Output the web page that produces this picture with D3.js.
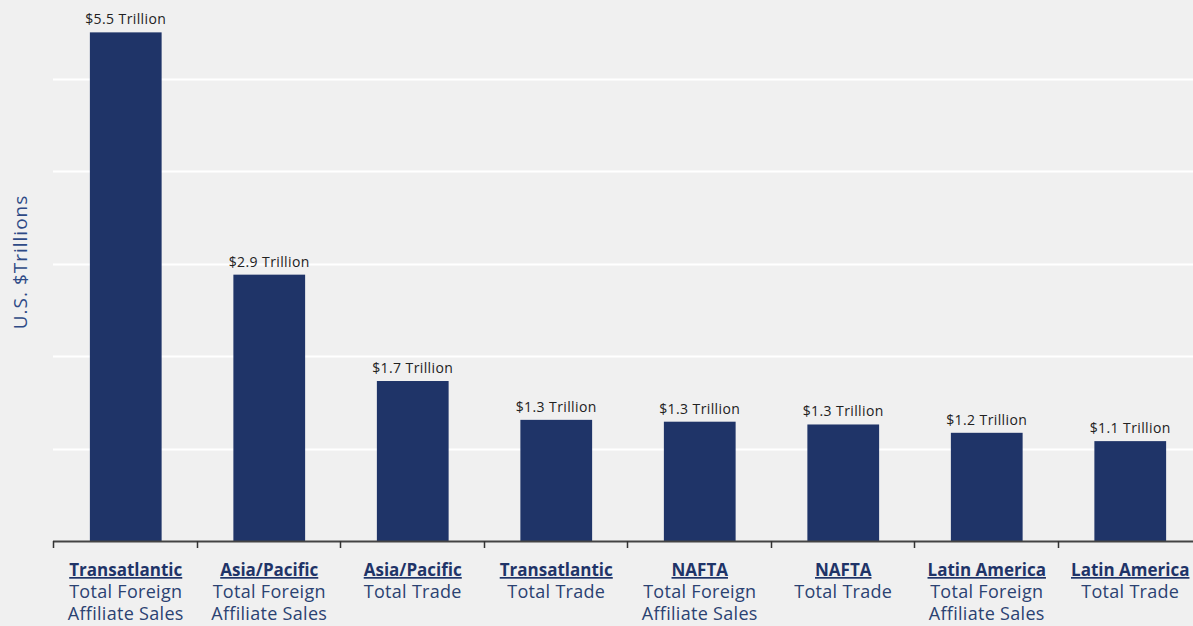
<!DOCTYPE html>
<html>
<head>
<meta charset="utf-8">
<script src="https://cdn.jsdelivr.net/npm/d3@7"></script>
<style>
  body { margin: 0; background: #f0f0f0; }
  svg { display: block; font-family: "Open Sans", sans-serif; }
</style>
</head>
<body>
<svg id="chart" width="1193" height="626"></svg>
<script>
// regions (bold, underlined) and the measure under them
var regions = ["Transatlantic", "Asia/Pacific", "Asia/Pacific", "Transatlantic", "NAFTA", "NAFTA", "Latin America", "Latin America"];
var measures = [["Total Foreign", "Affiliate Sales"], ["Total Foreign", "Affiliate Sales"], ["Total Trade"], ["Total Trade"],
                ["Total Foreign", "Affiliate Sales"], ["Total Trade"], ["Total Foreign", "Affiliate Sales"], ["Total Trade"]];
var values = [5.5, 2.88, 1.73, 1.31, 1.29, 1.26, 1.17, 1.08];
var valueLabels = ["$5.5 Trillion", "$2.9 Trillion", "$1.7 Trillion", "$1.3 Trillion", "$1.3 Trillion", "$1.3 Trillion", "$1.2 Trillion", "$1.1 Trillion"];
var gridTicks = [1, 2, 3, 4, 5];

var width = 1193, height = 626;
var margin = {top: 0, right: -8, bottom: 85, left: 53};

var svg = d3.select("#chart");
var navy = "#1f3468";

var x = d3.scaleBand()
    .domain(d3.range(values.length))
    .range([margin.left + 1, width - margin.right + 1])
    .paddingInner(0.5)
    .paddingOuter(0.25);

var y = d3.scaleLinear()
    .domain([0, 5.85])
    .range([height - margin.bottom, 0]);

// gridlines
svg.append("g")
  .selectAll("line")
  .data(gridTicks)
  .enter().append("line")
    .attr("x1", margin.left)
    .attr("x2", width)
    .attr("y1", function(d) { return Math.round(y(d)) + 0.5; })
    .attr("y2", function(d) { return Math.round(y(d)) + 0.5; })
    .attr("stroke", "#ffffff")
    .attr("stroke-width", 2);

// bars
svg.append("g")
  .selectAll("rect")
  .data(values)
  .enter().append("rect")
    .attr("x", function(d, i) { return x(i); })
    .attr("y", function(d) { return y(d); })
    .attr("width", x.bandwidth())
    .attr("height", function(d) { return y(0) - y(d); })
    .attr("fill", navy);

// value labels
svg.append("g")
  .selectAll("text")
  .data(values)
  .enter().append("text")
    .attr("x", function(d, i) { return x(i) + x.bandwidth() / 2; })
    .attr("y", function(d) { return y(d) - 8; })
    .attr("text-anchor", "middle")
    .attr("font-size", 14)
    .attr("letter-spacing", 0.4)
    .attr("fill", "#222")
    .text(function(d, i) { return valueLabels[i]; });

// x axis: ticks on band edges
var step = x.step();
var edges = d3.range(values.length + 1).map(function(i) { return margin.left + i * step; });
var axis = svg.append("g");
axis.append("line")
    .attr("x1", margin.left)
    .attr("x2", width)
    .attr("y1", y(0) + 0.5)
    .attr("y2", y(0) + 0.5)
    .attr("stroke", "#444")
    .attr("stroke-width", 2);
axis.selectAll(".tick")
  .data(edges)
  .enter().append("line")
    .attr("x1", function(d) { return Math.round(d) + 0.5; })
    .attr("x2", function(d) { return Math.round(d) + 0.5; })
    .attr("y1", y(0))
    .attr("y2", y(0) + 7)
    .attr("stroke", "#333")
    .attr("stroke-width", 1.5);

// category labels
var cat = svg.append("g")
  .selectAll("text")
  .data(regions)
  .enter().append("text")
    .attr("x", function(d, i) { return x(i) + x.bandwidth() / 2; })
    .attr("y", y(0) + 35)
    .attr("text-anchor", "middle")
    .attr("font-size", 18)
    .attr("fill", "#2b4272");

cat.append("tspan")
    .attr("font-weight", "bold")
    .attr("font-size", 17)
    .attr("fill", navy)
    .attr("text-decoration", "underline")
    .text(function(d) { return d; });

cat.each(function(d, i) {
  var t = d3.select(this);
  measures[i].forEach(function(m) {
    t.append("tspan")
      .attr("x", x(i) + x.bandwidth() / 2)
      .attr("dy", 22)
      .attr("letter-spacing", 0.3)
      .text(m);
  });
});

// y axis title
svg.append("text")
    .attr("transform", "translate(27," + 262 + ") rotate(-90)")
    .attr("text-anchor", "middle")
    .attr("font-size", 19)
    .attr("letter-spacing", 1)
    .attr("fill", "#2e4a86")
    .text("U.S. $Trillions");
</script>
</body>
</html>
